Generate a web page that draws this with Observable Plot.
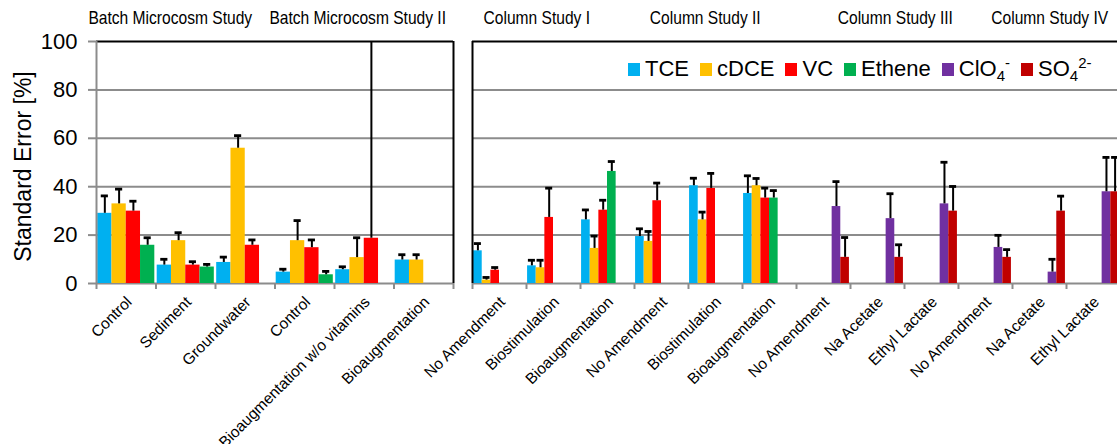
<!DOCTYPE html>
<html>
<head>
<meta charset="utf-8">
<script src="https://cdn.jsdelivr.net/npm/d3@7"></script>
<script src="https://cdn.jsdelivr.net/npm/@observablehq/plot@0.6"></script>
<style>
  html, body { margin: 0; padding: 0; background: #fff; overflow: hidden; }
  #chart { position: relative; width: 1117px; height: 444px; overflow: hidden;
           font-family: "Liberation Sans", Arial, sans-serif; }
  #left, #right { position: absolute; top: 0; }
  #left { left: 0; }
  #right { left: 456px; }
  #legend { position: absolute; left: 628px; top: 56px; display: flex; align-items: center;
            font-size: 22px; color: #000; white-space: nowrap; }
  #legend .item { display: flex; align-items: center; margin-right: 11px; }
  #legend .swatch { width: 12px; height: 13px; margin-right: 5px; }
  #legend sub, #legend sup { font-size: 15px; line-height: 0; }
</style>
</head>
<body>
<div id="chart">
  <div id="left"></div>
  <div id="right"></div>
  <div id="legend"></div>
</div>
<script>
// Treatments, in drawing order (6 batch microcosms, 12 column treatments)
const categories = [
  "Control", "Sediment", "Groundwater", "Control", "Bioaugmentation w/o vitamins", "Bioaugmentation",
  "No Amendment", "Biostimulation", "Bioaugmentation",
  "No Amendment", "Biostimulation", "Bioaugmentation",
  "No Amendment", "Na Acetate", "Ethyl Lactate",
  "No Amendment", "Na Acetate", "Ethyl Lactate"
];
const studies = [
  "Batch Microcosm Study", "Batch Microcosm Study", "Batch Microcosm Study",
  "Batch Microcosm Study II", "Batch Microcosm Study II", "Batch Microcosm Study II",
  "Column Study I", "Column Study I", "Column Study I",
  "Column Study II", "Column Study II", "Column Study II",
  "Column Study III", "Column Study III", "Column Study III",
  "Column Study IV", "Column Study IV", "Column Study IV"
];

// Standard error [%] per analyte and its error bar
const tce      = [29, 7.6, 8.7, 4.7, 5.7, 9.7, 13.5, 7.3, 26.3, 19.4, 40.4, 37.2, null, null, null, null, null, null];
const tceErr   = [7.2, 2.4, 2.2, 1.2, 1.2, 2.2, 3, 2.3, 4.1, 3.2, 3.1, 7.3, null, null, null, null, null, null];
const cdce     = [32.9, 17.7, 55.9, 17.7, 10.7, 9.7, 1.4, 6.5, 14.5, 17.4, 26.3, 40.4, null, null, null, null, null, null];
const cdceErr  = [6.1, 3.3, 5.2, 8.3, 8.2, 2.2, 1.1, 3.1, 5.1, 4.1, 3.2, 3, null, null, null, null, null, null];
const vc       = [29.9, 7.6, 15.8, 14.8, 18.7, null, 5.5, 27.3, 30.3, 34.2, 39.3, 35.3, null, null, null, null, null, null];
const vcErr    = [4.1, 1.4, 2.2, 3.2, 95, null, 1.1, 12.1, 4.1, 7.3, 6.2, 4.1, null, null, null, null, null, null];
const ethene   = [15.8, 6.8, null, 3.6, null, null, null, null, 46.3, null, null, 35.3, null, null, null, null, null, null];
const etheneErr= [3.1, 1.1, null, 1.4, null, null, null, null, 4.1, null, null, 3.1, null, null, null, null, null, null];
const clo4     = [null, null, null, null, null, null, null, null, null, null, null, null, 31.8, 26.8, 32.9, 14.9, 4.7, 37.9];
const clo4Err  = [null, null, null, null, null, null, null, null, null, null, null, null, 10.3, 10.3, 17.2, 5, 5.3, 14.2];
const so4      = [null, null, null, null, null, null, null, null, null, null, null, null, 10.8, 10.8, 29.9, 10.8, 29.9, 37.9];
const so4Err   = [null, null, null, null, null, null, null, null, null, null, null, null, 8.2, 5.2, 10.2, 3.2, 6.2, 14.2];

const seriesNames  = ["TCE", "cDCE", "VC", "Ethene", "ClO4", "SO4"];
const seriesLabels = ["TCE", "cDCE", "VC", "Ethene", "ClO<sub>4</sub><sup>-</sup>", "SO<sub>4</sub><sup>2-</sup>"];
const seriesColors = ["#00B0F0", "#FFC000", "#FF0000", "#00B050", "#7030A0", "#C00000"];
const yTicks = [0, 20, 40, 60, 80, 100];
const yLabel = "Standard Error [%]";

const seriesValues = [tce, cdce, vc, ethene, clo4, so4];
const seriesErrors = [tceErr, cdceErr, vcErr, etheneErr, clo4Err, so4Err];

const gray = "#8c8c8c";

function panel({first, count, nSeries, slot, offset, capHalf, width, marginLeft, marginRight,
                withYAxis, borderX, titleNudge}) {
  const idx = d3.range(first, first + count);
  const rows = [];
  idx.forEach((i, local) => {
    for (let s = 0; s < nSeries; ++s) {
      const v = seriesValues[s][i];
      if (v == null) continue;
      const x1 = local + offset + s * slot;
      rows.push({series: seriesNames[s], value: v, err: seriesErrors[s][i],
                 x1, x2: x1 + slot, xc: x1 + slot / 2});
    }
  });
  const labels = idx.map((i, local) => ({name: categories[i], x: local + 0.5}));
  const groups = d3.groups(idx.map((i, local) => ({study: studies[i], local})), d => d.study)
    .map(([study, members], g) => ({study, x: members[0].local + members.length / 2 + titleNudge[g]}));

  const marks = [
    Plot.ruleY([20, 40, 60, 80], {stroke: gray, strokeWidth: 2}),
    Plot.ruleY([0], {stroke: gray, strokeWidth: 2}),
    Plot.axisX({ticks: d3.range(count + 1), tickSize: 6, tickFormat: () => "", stroke: gray,
                strokeWidth: 2, label: null}),
    Plot.rectY(rows, {x1: "x1", x2: "x2", y1: 0, y2: "value", fill: "series"}),
    Plot.ruleX(rows, {x: "xc", y1: "value", y2: d => d.value + d.err, stroke: "#000", strokeWidth: 2, clip: true}),
    Plot.ruleY(rows, {y: d => d.value + d.err, x1: d => d.xc - capHalf, x2: d => d.xc + capHalf,
                      stroke: "#000", strokeWidth: 2.8, clip: true}),
    Plot.ruleY([100], {stroke: "#000", strokeWidth: 2}),
    Plot.ruleX(borderX, {y1: 0, y2: 100, stroke: "#000", strokeWidth: 2}),
    Plot.text(labels, {x: "x", y: 0, text: "name", rotate: -45, textAnchor: "end",
                       dx: 3, dy: 16, fontSize: 15.5, fill: "#000"}),
    Plot.text(groups, {x: "x", y: 100, text: "study", dy: -24, fontSize: 19, fill: "#000"})
  ];
  if (withYAxis) {
    marks.push(
      Plot.ruleX([0], {y1: 0, y2: 100, stroke: gray, strokeWidth: 2}),
      Plot.axisY({ticks: yTicks, tickSize: 8, tickPadding: 11, fontSize: 22, stroke: gray,
                  strokeWidth: 2, fill: "#000", label: null}),
      Plot.text([yLabel], {frameAnchor: "left", rotate: -90, textAnchor: "middle", dx: -73, dy: 4,
                           fontSize: 23, fill: "#000"})
    );
  }
  return Plot.plot({
    width, height: 444,
    marginLeft, marginRight, marginTop: 41, marginBottom: 161,
    style: "max-width:none; overflow:visible; background:transparent; font-family:'Liberation Sans', Arial, sans-serif;",
    x: {domain: [0, count], axis: null},
    y: {domain: [0, 100], axis: null},
    color: {domain: seriesNames, range: seriesColors},
    marks
  });
}

// Study titles are set in a condensed face: squeeze the glyphs horizontally
const studyNames = new Set(studies);
function condenseTitles(svg) {
  svg.querySelectorAll("text").forEach(t => {
    if (!studyNames.has(t.textContent)) return;
    const w = t.getComputedTextLength();
    t.setAttribute("textLength", (w * 0.82).toFixed(1));
    t.setAttribute("lengthAdjust", "spacingAndGlyphs");
  });
}

// Batch microcosm panel: four analytes per treatment
const leftSvg = panel({
  first: 0, count: 6, nSeries: 4, slot: 0.24, offset: 0.02, capHalf: 0.06,
  width: 458, marginLeft: 96, marginRight: 5, withYAxis: true, borderX: [6],
  titleNudge: [-0.26, -0.11]
});
document.getElementById("left").append(leftSvg);
condenseTitles(leftSvg);

// Column panel: six analytes per treatment
const rightSvg = panel({
  first: 6, count: 12, nSeries: 6, slot: 0.16, offset: 0.02, capHalf: 0.065,
  width: 674, marginLeft: 16, marginRight: 10, withYAxis: false, borderX: [0],
  titleNudge: [-0.31, -0.19, 0.33, 0.19]
});
document.getElementById("right").append(rightSvg);
condenseTitles(rightSvg);

// Legend inside the column panel
const legend = document.getElementById("legend");
seriesNames.forEach((name, s) => {
  const item = document.createElement("div");
  item.className = "item";
  item.innerHTML = `<span class="swatch" style="background:${seriesColors[s]}"></span><span>${seriesLabels[s]}</span>`;
  legend.append(item);
});
</script>
</body>
</html>
